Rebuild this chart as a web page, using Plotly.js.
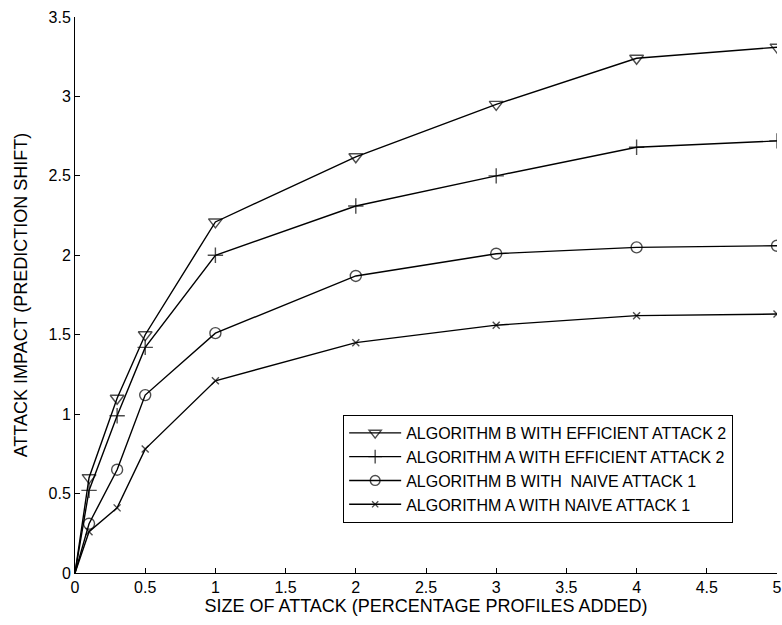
<!DOCTYPE html>
<html>
<head>
<meta charset="utf-8">
<script src="https://cdn.plot.ly/plotly-3.0.1.min.js"></script>
<style>html,body{margin:0;padding:0;background:#fff;}#chart{width:782px;height:625px;}</style>
</head>
<body>
<div id="chart"></div>
<script>
const attackSize = [0, 0.1, 0.3, 0.5, 1, 2, 3, 4, 5];
const seriesNames = [
  "ALGORITHM B WITH EFFICIENT ATTACK 2",
  "ALGORITHM A WITH EFFICIENT ATTACK 2",
  "ALGORITHM B WITH  NAIVE ATTACK 1",
  "ALGORITHM A WITH NAIVE ATTACK 1"
];
const algBEfficient = [0, 0.60, 1.10, 1.50, 2.21, 2.62, 2.95, 3.24, 3.31];
const algAEfficient = [0, 0.52, 0.99, 1.42, 2.00, 2.31, 2.50, 2.68, 2.72];
const algBNaive     = [0, 0.31, 0.65, 1.12, 1.51, 1.87, 2.01, 2.05, 2.06];
const algANaive     = [0, 0.26, 0.41, 0.78, 1.21, 1.45, 1.56, 1.62, 1.63];
const xTicks = [0, 0.5, 1, 1.5, 2, 2.5, 3, 3.5, 4, 4.5, 5];
const yTicks = [0, 0.5, 1, 1.5, 2, 2.5, 3, 3.5];

const seriesData = [algBEfficient, algAEfficient, algBNaive, algANaive];
const symbols = ["triangle-down-open", "cross-thin-open", "circle-open", "x-thin-open"];
const sizes = [12, 11, 11, 7];

const traces = seriesData.map((ys, i) => ({
  x: attackSize,
  y: ys,
  name: seriesNames[i],
  type: "scatter",
  mode: "lines+markers",
  line: {color: "#000", width: 1.4},
  marker: {
    symbol: symbols[i],
    size: attackSize.map((v, j) => j === 0 ? 0 : sizes[i]),
    color: "#000",
    line: {color: "#000", width: 1.4}
  }
}));

const fam = "Liberation Sans, Arial, Helvetica, sans-serif";
const tickFont = {family: fam, color: "#000", size: 16};
const titleFont = {family: fam, color: "#000", size: 18};

const layout = {
  width: 782, height: 625,
  margin: {l: 75, r: 5, t: 17, b: 52},
  paper_bgcolor: "#fff", plot_bgcolor: "#fff",
  font: tickFont,
  showlegend: true,
  legend: {
    x: 0.382, y: 0.09, xanchor: "left", yanchor: "bottom",
    bgcolor: "#fff", bordercolor: "#000", borderwidth: 1,
    font: {family: fam, size: 16, color: "#000"},
    tracegroupgap: 0, itemwidth: 52
  },
  xaxis: {
    range: [0, 5], tickvals: xTicks, ticktext: xTicks.map(String),
    ticks: "inside", ticklen: 5, tickcolor: "#000", showline: true, linecolor: "#000", linewidth: 1,
    showgrid: false, zeroline: false, mirror: false, tickfont: tickFont,
    title: {text: "SIZE OF ATTACK (PERCENTAGE PROFILES ADDED)", font: titleFont, standoff: 4}
  },
  yaxis: {
    range: [0, 3.5], tickvals: yTicks, ticktext: yTicks.map(String),
    ticks: "inside", ticklen: 5, tickcolor: "#000", showline: true, linecolor: "#000", linewidth: 1,
    showgrid: false, zeroline: false, mirror: false, tickfont: tickFont,
    title: {text: "ATTACK IMPACT (PREDICTION SHIFT)", font: titleFont, standoff: 16}
  }
};

Plotly.newPlot("chart", traces, layout, {displayModeBar: false, staticPlot: true});
</script>
</body>
</html>
